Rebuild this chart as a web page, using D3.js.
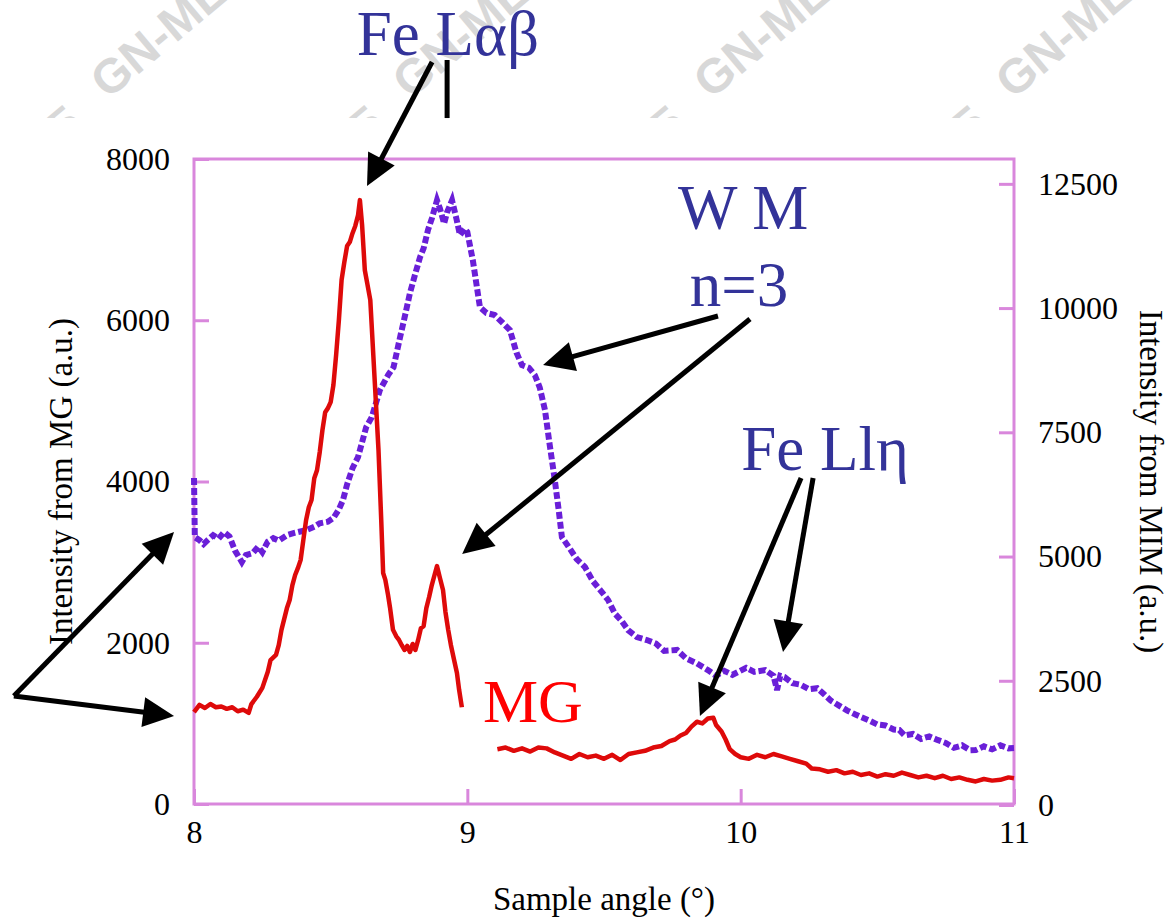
<!DOCTYPE html>
<html>
<head>
<meta charset="utf-8">
<script src="https://cdn.jsdelivr.net/npm/d3@7"></script>
<style>
  body { margin: 0; background: #fff; }
  svg { display: block; }
  text { font-family: "Liberation Serif", "Times New Roman", serif; }
</style>
</head>
<body>
<div id="d3-container"></div>
<script>
//CONSTANTS AND GLOBALS
const width = 1171,
  height = 919,
  margin = { top: 159, bottom: 115, left: 194, right: 157 },
  serif = "'Liberation Serif', 'Times New Roman', serif",
  frameColor = "#d987dc",
  mgColor = "#de0a0a",
  mimColor = "#6a1fd8",
  noteColor = "#333399";

// DATA - MG (left axis), null = gap in the trace behind the "MG" label
const mgAngles = [8.00, 8.02, 8.04, 8.06, 8.08, 8.10, 8.12, 8.14, 8.16, 8.18, 8.20, 8.21, 8.23, 8.25, 8.27, 8.28, 8.30, 8.31, 8.32, 8.34,
  8.35, 8.36, 8.37, 8.38, 8.39, 8.40, 8.41, 8.42, 8.43, 8.44, 8.45, 8.46, 8.47, 8.48, 8.49, 8.50, 8.51, 8.52, 8.53, 8.54,
  8.55, 8.56, 8.57, 8.58, 8.59, 8.60, 8.607, 8.615, 8.625, 8.635, 8.645, 8.655, 8.665, 8.675, 8.685, 8.692, 8.70, 8.71, 8.717, 8.728,
  8.74, 8.75, 8.76, 8.77, 8.78, 8.79, 8.80, 8.81, 8.82, 8.83, 8.84, 8.85, 8.86, 8.87, 8.88, 8.889, 8.90, 8.911, 8.92, 8.93,
  8.94, 8.95, 8.962, 8.97, 8.98, 9.05,
  9.11, 9.14, 9.17, 9.20, 9.23, 9.26, 9.29, 9.32, 9.35, 9.38, 9.41, 9.44, 9.47, 9.50, 9.53, 9.56, 9.59, 9.62, 9.65, 9.68,
  9.71, 9.74, 9.76, 9.78, 9.80, 9.82, 9.84, 9.86, 9.88, 9.90, 9.91, 9.93, 9.945, 9.96, 9.98, 10.00, 10.03, 10.06, 10.09, 10.12,
  10.15, 10.18, 10.21, 10.24, 10.26, 10.29, 10.32, 10.35, 10.38, 10.41, 10.44, 10.47, 10.50, 10.53, 10.56, 10.59, 10.62, 10.65, 10.68, 10.71,
  10.74, 10.77, 10.80, 10.83, 10.86, 10.89, 10.92, 10.95, 10.98, 11.00];
const mgCounts = [1140, 1230, 1190, 1240, 1200, 1210, 1180, 1200, 1150, 1170, 1130, 1240, 1330, 1440, 1640, 1785, 1850, 1970, 2160, 2430,
  2530, 2715, 2840, 2925, 3025, 3275, 3520, 3680, 3770, 4040, 4140, 4365, 4640, 4860, 4910, 4985, 5195, 5570, 6000, 6500,
  6720, 6920, 6970, 7080, 7170, 7300, 7490, 7180, 6620, 6435, 6250, 5630, 5010, 4390, 3520, 2865, 2780, 2590, 2440, 2160,
  2080, 2035, 1970, 1910, 1960, 1885, 1985, 1910, 2035, 2180, 2205, 2430, 2565, 2715, 2840, 2950, 2800, 2655, 2380, 2160,
  1970, 1810, 1625, 1415, 1200, null,
  680, 700, 660, 690, 650, 700, 690, 640, 600, 560, 620, 580, 600, 560, 610, 545, 620, 640, 660, 700,
  720, 780, 800, 850, 880, 960, 1020, 1000, 1060, 1070, 980, 900, 800, 680, 620, 580, 560, 610, 580, 620,
  590, 560, 530, 500, 440, 430, 400, 420, 380, 400, 360, 380, 340, 370, 350, 390, 360, 330, 350, 320,
  350, 310, 330, 300, 280, 310, 290, 300, 330, 320];

// DATA - MIM (right axis)
const mimAngles = [8.000, 8.003, 8.02, 8.035, 8.05, 8.07, 8.09, 8.11, 8.13, 8.15, 8.175, 8.19, 8.215, 8.235, 8.25, 8.27, 8.29, 8.31, 8.34, 8.37,
  8.41, 8.44, 8.46, 8.49, 8.51, 8.53, 8.545, 8.56, 8.58, 8.60, 8.63, 8.65, 8.68, 8.71, 8.73, 8.754, 8.77, 8.79, 8.81, 8.827,
  8.84, 8.856, 8.87, 8.889, 8.90, 8.915, 8.926, 8.944, 8.96, 8.973, 8.99, 9.00, 9.02, 9.046, 9.07, 9.10, 9.13, 9.156, 9.18, 9.20,
  9.225, 9.247, 9.265, 9.284, 9.30, 9.32, 9.335, 9.346, 9.37, 9.40, 9.43, 9.46, 9.49, 9.515, 9.54, 9.565, 9.588, 9.62, 9.657, 9.69,
  9.72, 9.767, 9.80, 9.84, 9.88, 9.91, 9.94, 9.97, 9.99, 10.02, 10.05, 10.09, 10.12, 10.133, 10.145, 10.16, 10.19, 10.22, 10.25, 10.28,
  10.30, 10.33, 10.36, 10.39, 10.42, 10.44, 10.47, 10.50, 10.53, 10.56, 10.58, 10.60, 10.63, 10.66, 10.69, 10.72, 10.75, 10.78, 10.81, 10.84,
  10.86, 10.89, 10.92, 10.95, 10.98, 11.00];
const mimCounts = [6580, 5390, 5330, 5250, 5330, 5430, 5360, 5490, 5400, 5120, 4890, 5030, 5070, 5200, 5090, 5300, 5370, 5320, 5430, 5480,
  5530, 5600, 5670, 5700, 5775, 5950, 6135, 6450, 6780, 7000, 7605, 7800, 8350, 8650, 8810, 9415, 9800, 10300, 10700, 11025,
  11200, 11570, 11800, 12170, 12000, 11700, 11930, 12170, 11800, 11470, 11600, 11530, 10965, 10020, 9900, 9860, 9700, 9555, 9100, 8850,
  8800, 8650, 8400, 7950, 7300, 6540, 5900, 5390, 5200, 4950, 4790, 4500, 4300, 4125, 3850, 3700, 3520, 3380, 3320, 3250,
  3100, 3120, 2950, 2850, 2715, 2600, 2700, 2620, 2675, 2760, 2680, 2715, 2600, 2315, 2600, 2575, 2450, 2420, 2330, 2350,
  2255, 2100, 2000, 1900, 1820, 1770, 1700, 1620, 1600, 1520, 1510, 1400, 1430, 1330, 1380, 1310, 1250, 1150, 1200, 1100,
  1105, 1180, 1120, 1200, 1140, 1145];

// AXIS TICKS
const xTicks = [8, 9, 10, 11];
const leftTicks = [0, 2000, 4000, 6000, 8000];
const rightTicks = [0, 2500, 5000, 7500, 10000, 12500];

// ANNOTATIONS (angle, left-axis intensity)
const noteTexts = ["Fe L\u03b1\u03b2", "W M", "n=3", "Fe Ll\u03b7"];
const noteAt = [[8.929, 9290], [10.009, 7132], [9.994, 6177], [10.309, 4143]];
const arrowFrom = [[8.871, 9203], [9.917, 6053], [10.034, 6015], [10.221, 4043], [10.265, 4043], [7.341, 1340], [7.341, 1340]];
const arrowTo = [[8.633, 7665], [9.277, 5445], [8.981, 3101], [9.851, 1091], [10.155, 1885], [7.927, 3374], [7.927, 1091]];
const stemFrom = [8.926, 9228], stemTo = [8.926, 8508];
const mgLabelAt = [9.057, 1017];

// watermark anchors (decoration only)
const wmX = [108, 410, 711, 1013];

let svg, xScale, yLeft, yRight;

init();

function init() {
  svg = d3.select("#d3-container")
    .append("svg")
    .attr("width", width)
    .attr("height", height)
    .attr("font-family", serif);

  svg.append("rect").attr("width", width).attr("height", height).attr("fill", "#fff");

  // watermark, cut off above the chart
  svg.append("clipPath").attr("id", "wm-clip")
    .append("rect").attr("x", 0).attr("y", 0).attr("width", width).attr("height", 118);
  const wm = svg.append("g").attr("clip-path", "url(#wm-clip)").attr("fill", "#d8d8d8");
  wmX.forEach(x => {
    wm.append("text").attr("transform", `translate(${x},100) rotate(-40)`)
      .style("font-family", "'Liberation Sans', Arial, sans-serif")
      .style("font-weight", "bold").style("font-size", "48px")
      .text("GN-MEM");
    wm.append("text").attr("transform", `translate(${x - 22},128) rotate(-40)`)
      .attr("text-anchor", "end")
      .style("font-family", "'Liberation Sans', Arial, sans-serif")
      .style("font-weight", "bold").style("font-size", "48px")
      .text("2025");
  });

  // SCALES
  xScale = d3.scaleLinear().domain([8, 11]).range([margin.left, width - margin.right]);
  yLeft = d3.scaleLinear().domain([0, 8000]).range([height - margin.bottom, margin.top]);
  yRight = d3.scaleLinear().domain([0, 13000]).range([height - margin.bottom + 1, margin.top]);

  // AXES (ticks point into the plot)
  const xAxis = d3.axisBottom(xScale).tickValues(xTicks).tickFormat(d3.format("d"))
    .tickSizeInner(-15).tickSizeOuter(0).tickPadding(16);
  const leftAxis = d3.axisLeft(yLeft).tickValues(leftTicks).tickFormat(d3.format("d"))
    .tickSizeInner(-15).tickSizeOuter(0).tickPadding(24);
  const rightAxis = d3.axisRight(yRight).tickValues(rightTicks).tickFormat(d3.format("d"))
    .tickSizeInner(-15).tickSizeOuter(0).tickPadding(24);

  const axes = [
    [xAxis, `translate(0,${height - margin.bottom})`],
    [leftAxis, `translate(${margin.left},0)`],
    [rightAxis, `translate(${width - margin.right},0)`]
  ];
  axes.forEach(([ax, tr]) => {
    const g = svg.append("g").attr("class", "axis").attr("transform", tr).call(ax);
    g.attr("font-family", serif).attr("font-size", 32);
    g.select(".domain").remove();
    g.selectAll("line").attr("stroke", frameColor).attr("stroke-width", 3);
    g.selectAll("text").attr("fill", "#000");
  });

  // plot frame
  svg.append("rect")
    .attr("x", margin.left).attr("y", margin.top)
    .attr("width", width - margin.left - margin.right)
    .attr("height", height - margin.top - margin.bottom)
    .attr("fill", "none").attr("stroke", frameColor).attr("stroke-width", 3);

  // axis titles
  svg.append("text")
    .attr("x", xScale(9.5)).attr("y", 910)
    .attr("text-anchor", "middle").style("font-size", "33px")
    .text("Sample angle (\u00b0)");
  svg.append("text")
    .attr("transform", `translate(72,${yLeft(4000)}) rotate(-90)`)
    .attr("text-anchor", "middle").style("font-size", "33px")
    .text("Intensity from MG (a.u.)");
  svg.append("text")
    .attr("transform", `translate(1140,${yLeft(4000)}) rotate(90)`)
    .attr("text-anchor", "middle").style("font-size", "33px")
    .text("Intensity from MIM (a.u.)");

  draw();
}

function draw() {
  const mgData = mgAngles.map((a, i) => ({ angle: a, value: mgCounts[i] }));
  const mimData = mimAngles.map((a, i) => ({ angle: a, value: mimCounts[i] }));

  const mimLine = d3.line().x(d => xScale(d.angle)).y(d => yRight(d.value));
  const mgLine = d3.line().defined(d => d.value !== null)
    .x(d => xScale(d.angle)).y(d => yLeft(d.value));

  svg.append("path").datum(mimData)
    .attr("d", mimLine)
    .attr("fill", "none").attr("stroke", mimColor)
    .attr("stroke-width", 6).attr("stroke-dasharray", "7,3");

  svg.append("path").datum(mgData)
    .attr("d", mgLine)
    .attr("fill", "none").attr("stroke", mgColor)
    .attr("stroke-width", 4.5).attr("stroke-linejoin", "round");

  // labels
  svg.selectAll(".note")
    .data(noteTexts)
    .join("text")
    .attr("class", "note")
    .attr("x", (d, i) => xScale(noteAt[i][0]))
    .attr("y", (d, i) => yLeft(noteAt[i][1]))
    .attr("text-anchor", "middle")
    .attr("fill", noteColor)
    .style("font-family", serif)
    .style("font-size", "63px")
    .text(d => d);

  svg.append("text")
    .attr("x", xScale(mgLabelAt[0])).attr("y", yLeft(mgLabelAt[1]))
    .attr("fill", "#ff0000")
    .style("font-family", serif).style("font-size", "62px")
    .text("MG");

  // arrows
  const notes = svg.append("g").attr("class", "arrows");
  notes.append("line")
    .attr("x1", xScale(stemFrom[0])).attr("y1", yLeft(stemFrom[1]))
    .attr("x2", xScale(stemTo[0])).attr("y2", yLeft(stemTo[1]))
    .attr("stroke", "#000").attr("stroke-width", 5);

  arrowFrom.forEach((f, i) => {
    const x1 = xScale(f[0]), y1 = yLeft(f[1]);
    const x2 = xScale(arrowTo[i][0]), y2 = yLeft(arrowTo[i][1]);
    const len = Math.hypot(x2 - x1, y2 - y1), ux = (x2 - x1) / len, uy = (y2 - y1) / len;
    const hl = 31, hw = 15;
    const bx = x2 - ux * hl, by = y2 - uy * hl;
    notes.append("line")
      .attr("x1", x1).attr("y1", y1).attr("x2", bx + ux * 3).attr("y2", by + uy * 3)
      .attr("stroke", "#000").attr("stroke-width", 5);
    notes.append("path")
      .attr("d", `M${x2},${y2}L${bx - uy * hw},${by + ux * hw}L${bx + uy * hw},${by - ux * hw}Z`)
      .attr("fill", "#000");
  });
}
</script>
</body>
</html>
